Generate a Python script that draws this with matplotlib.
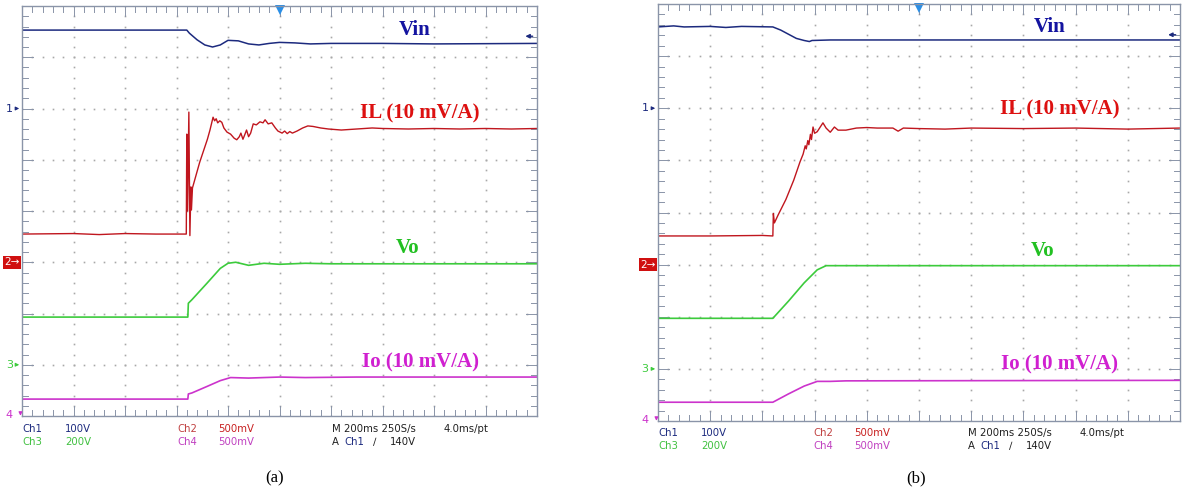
import numpy as np
import matplotlib.pyplot as plt
from matplotlib.transforms import blended_transform_factory

# screen units: time in divisions (200 ms/div), level in divisions from bottom
# ---- panel (a) ----
vin_a_t = [0, 3.20, 3.25, 3.40, 3.55, 3.70, 3.85, 4.00, 4.20, 4.40, 4.60, 4.80, 5.00, 5.30, 5.60, 6.00, 7.0, 8.0, 10]
vin_a_y = [7.53, 7.53, 7.47, 7.34, 7.24, 7.20, 7.24, 7.33, 7.32, 7.26, 7.24, 7.27, 7.29, 7.28, 7.26, 7.27, 7.27, 7.26, 7.27]

il_a_t = [0, 1.0, 1.5, 2.0, 2.6, 3.19, 3.20, 3.215, 3.24, 3.26, 3.28, 3.29, 3.31, 3.45, 3.55, 3.60, 3.65,
          3.71, 3.74, 3.77, 3.80, 3.84, 3.88, 3.92, 3.98, 4.05, 4.12, 4.17, 4.22, 4.25, 4.29, 4.33, 4.36,
          4.40, 4.44, 4.49, 4.55, 4.62, 4.68, 4.72, 4.78, 4.85, 4.92, 4.97, 5.05, 5.10, 5.15, 5.20, 5.25,
          5.34, 5.45, 5.55, 5.65, 5.80, 5.95, 6.2, 6.5, 6.8, 7.0, 7.5, 8.0, 8.5, 9.0, 9.5, 10]
il_a_y = [3.55, 3.56, 3.54, 3.56, 3.55, 3.55, 5.50, 4.00, 5.93, 3.52, 4.47, 4.02, 4.45, 4.95, 5.25, 5.40, 5.58,
          5.83, 5.76, 5.80, 5.72, 5.76, 5.73, 5.62, 5.54, 5.50, 5.42, 5.39, 5.45, 5.52, 5.40, 5.50, 5.58,
          5.45, 5.52, 5.70, 5.68, 5.74, 5.72, 5.78, 5.70, 5.72, 5.62, 5.56, 5.52, 5.56, 5.51, 5.55, 5.52,
          5.56, 5.62, 5.66, 5.65, 5.62, 5.60, 5.58, 5.60, 5.62, 5.61, 5.60, 5.61, 5.60, 5.61, 5.60, 5.61]

vo_a_t = [0, 3.22, 3.23, 3.30, 3.60, 3.85, 4.00, 4.15, 4.40, 4.70, 5.00, 5.50, 6.0, 10]
vo_a_y = [1.93, 1.93, 2.20, 2.27, 2.60, 2.88, 2.98, 3.00, 2.94, 2.98, 2.96, 2.98, 2.97, 2.97]

io_a_t = [0, 3.22, 3.23, 3.30, 3.60, 3.85, 4.05, 4.40, 5.00, 5.50, 6.5, 10]
io_a_y = [0.33, 0.33, 0.43, 0.45, 0.58, 0.69, 0.75, 0.74, 0.76, 0.75, 0.76, 0.76]

# ---- panel (b) ----
vin_b_t = [0, 0.3, 0.5, 1.0, 1.3, 1.6, 2.20, 2.35, 2.50, 2.65, 2.80, 2.90, 2.95, 3.30, 10]
vin_b_y = [7.56, 7.58, 7.56, 7.57, 7.55, 7.57, 7.56, 7.50, 7.42, 7.34, 7.30, 7.28, 7.30, 7.31, 7.31]

il_b_t = [0, 1.0, 2.0, 2.20, 2.21, 2.23, 2.30, 2.45, 2.60, 2.72, 2.78, 2.82, 2.84, 2.87, 2.89, 2.92, 2.94,
          2.97, 3.00, 3.05, 3.16, 3.22, 3.30, 3.38, 3.45, 3.60, 3.80, 4.00, 4.20, 4.50, 4.60, 4.70, 5.0,
          5.5, 6.0, 7.0, 8.0, 9.0, 10]
il_b_y = [3.55, 3.55, 3.56, 3.55, 3.98, 3.80, 3.95, 4.25, 4.62, 4.97, 5.12, 5.28, 5.22, 5.38, 5.30, 5.50, 5.40,
          5.64, 5.52, 5.55, 5.72, 5.62, 5.54, 5.64, 5.58, 5.58, 5.62, 5.63, 5.62, 5.62, 5.56, 5.62, 5.61,
          5.60, 5.62, 5.61, 5.62, 5.60, 5.62]

vo_b_t = [0, 2.20, 2.50, 2.80, 3.05, 3.22, 3.40, 10]
vo_b_y = [1.97, 1.97, 2.30, 2.65, 2.90, 2.98, 2.98, 2.98]

io_b_t = [0, 2.20, 2.50, 2.80, 3.05, 3.30, 3.60, 10]
io_b_y = [0.36, 0.36, 0.52, 0.67, 0.76, 0.76, 0.77, 0.78]

W, H = 1184, 496
NAVY, RED, GREEN, MAG = '#1c2a7e', '#c0161e', '#3ccb3c', '#cc33cc'
FRAME = '#8a94a8'

fig = plt.figure(figsize=(W / 100, H / 100), dpi=100)


def make_axes(x0, y0, x1, y1):
    ax = fig.add_axes([x0 / W, 1 - y1 / H, (x1 - x0) / W, (y1 - y0) / H])
    ax.set_xlim(0, 10)
    ax.set_ylim(0, 8)
    ax.set_xticks([])
    ax.set_yticks([])
    for s in ax.spines.values():
        s.set_color(FRAME)
        s.set_linewidth(1.0)
    # dotted graticule
    for k in range(1, 10):
        yy = np.arange(0, 8.01, 0.2)
        ax.plot(np.full_like(yy, k), yy, ls='none', marker='s', ms=1.2, color='#a8a8a8', mew=0)
    for k in range(1, 8):
        xx = np.arange(0, 10.01, 0.2)
        ax.plot(xx, np.full_like(xx, k), ls='none', marker='s', ms=1.2, color='#a8a8a8', mew=0)
    # frame ticks
    for i in range(1, 50):
        v = i * 0.2
        ln = 0.2 if i % 5 == 0 else 0.11
        ax.plot([v, v], [8, 8 - ln], color=FRAME, lw=0.7)
        ax.plot([v, v], [0, ln], color=FRAME, lw=0.7)
    for i in range(1, 40):
        v = i * 0.2
        ln = 0.22 if i % 5 == 0 else 0.12
        ax.plot([0, ln], [v, v], color=FRAME, lw=0.7)
        ax.plot([10, 10 - ln], [v, v], color=FRAME, lw=0.7)
    return ax


def decorate(ax, labels):
    tr = blended_transform_factory(ax.transAxes, ax.transData)
    ax.text(-0.018, 6, '1', transform=tr, ha='right', va='center', color=NAVY, fontsize=8, clip_on=False)
    ax.annotate('', xy=(0.0, 6), xytext=(-0.016, 6), xycoords=tr, textcoords=tr,
                arrowprops=dict(arrowstyle='-|>', color=NAVY, lw=0.8, mutation_scale=5))
    ax.text(-0.004, 3, '2\u2192', transform=tr, ha='right', va='center', color='white', fontsize=7.5,
            clip_on=False, bbox=dict(boxstyle='square,pad=0.12', fc='#d01010', ec='none'))
    ax.text(-0.018, 1, '3', transform=tr, ha='right', va='center', color=GREEN, fontsize=8, clip_on=False)
    ax.annotate('', xy=(0.0, 1), xytext=(-0.016, 1), xycoords=tr, textcoords=tr,
                arrowprops=dict(arrowstyle='-|>', color=GREEN, lw=0.8, mutation_scale=5))
    ax.text(-0.018, 0.02, '4', transform=tr, ha='right', va='center', color=MAG, fontsize=8, clip_on=False)
    ax.annotate('', xy=(-0.003, -0.05), xytext=(-0.003, 0.12), xycoords=tr, textcoords=tr,
                arrowprops=dict(arrowstyle='-|>', color=MAG, lw=0.8, mutation_scale=5))
    # trigger position and level markers
    ax.plot([5], [7.93], marker='v', ms=7, color='#2b8fe6', clip_on=False, mew=0)
    ax.annotate('', xy=(9.72, 7.41), xytext=(9.97, 7.41),
                arrowprops=dict(arrowstyle='-|>', color=NAVY, lw=1.0, mutation_scale=6))
    for txt, x, y, c in labels:
        ax.text(x, y, txt, ha='center', va='center', color=c, fontsize=15, fontweight='bold',
                family='Liberation Serif')


def traces(ax, vin, il, vo, io):
    ax.plot(*vin, color=NAVY, lw=1.1)
    ax.plot(*il, color=RED, lw=1.0)
    ax.plot(*vo, color=GREEN, lw=1.2)
    ax.plot(*io, color=MAG, lw=1.2)


def footer(x0, y0):
    def t(dx, dy, s, c):
        fig.text((x0 + dx) / W, 1 - (y0 + dy) / H, s, color=c, fontsize=7.3, va='center', ha='left')
    t(0, 0, 'Ch1', NAVY)
    t(43, 0, '100V', NAVY)
    t(0, 13, 'Ch3', '#40c040')
    t(43, 13, '200V', '#40c040')
    t(155, 0, 'Ch2', '#c04040')
    t(196, 0, '500mV', '#c82020')
    t(155, 13, 'Ch4', '#c040c0')
    t(196, 13, '500mV', '#c040c0')
    t(310, 0, 'M 200ms 250S/s', '#202020')
    t(422, 0, '4.0ms/pt', '#202020')
    t(310, 13, 'A', '#202020')
    t(322, 13, 'Ch1', NAVY)
    t(351, 13, '\u2215', '#202020')
    t(368, 13, '140V', '#202020')


ax_a = make_axes(22, 6, 537, 416)
traces(ax_a, (vin_a_t, vin_a_y), (il_a_t, il_a_y), (vo_a_t, vo_a_y), (io_a_t, io_a_y))
decorate(ax_a, [('Vin', 7.63, 7.53, '#1414a0'), ('IL (10 mV/A)', 7.73, 5.91, '#dd1010'),
                ('Vo', 7.48, 3.28, '#22c022'), ('Io (10 mV/A)', 7.73, 1.05, '#d020d0')])
footer(22, 429)
fig.text(275 / W, 1 - 478 / H, '(a)', ha='center', va='center', fontsize=12, family='Liberation Serif')

ax_b = make_axes(658, 4, 1180, 421)
traces(ax_b, (vin_b_t, vin_b_y), (il_b_t, il_b_y), (vo_b_t, vo_b_y), (io_b_t, io_b_y))
decorate(ax_b, [('Vin', 7.51, 7.56, '#1414a0'), ('IL (10 mV/A)', 7.70, 5.97, '#dd1010'),
                ('Vo', 7.36, 3.26, '#22c022'), ('Io (10 mV/A)', 7.70, 1.09, '#d020d0')])
footer(658, 433)
fig.text(916 / W, 1 - 478 / H, '(b)', ha='center', va='center', fontsize=12, family='Liberation Serif')

fig.savefig('out.png', dpi=100)
